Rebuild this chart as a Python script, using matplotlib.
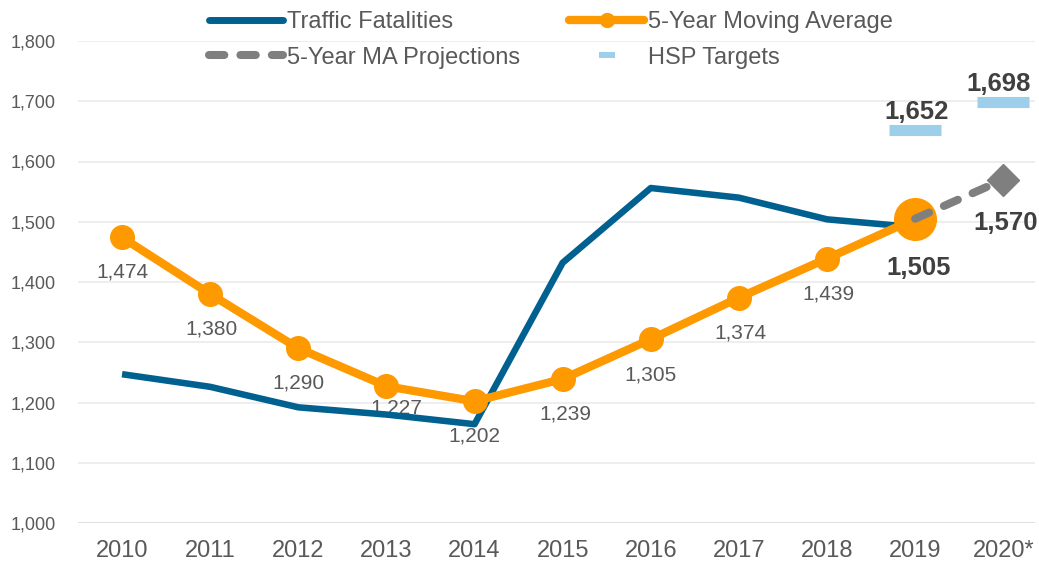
import matplotlib
matplotlib.use("Agg")
import matplotlib.pyplot as plt
from matplotlib.lines import Line2D

plt.rcParams['font.family'] = ['Liberation Sans', 'DejaVu Sans']

years = ["2010", "2011", "2012", "2013", "2014", "2015", "2016", "2017", "2018", "2019", "2020*"]
fatalities = [1247, 1226, 1192, 1180, 1164, 1432, 1556, 1540, 1504, 1491]
moving_avg = [1474, 1380, 1290, 1227, 1202, 1239, 1305, 1374, 1439, 1505]
projection = [1505, 1570]
hsp_targets = [1652, 1698]
yticks = [1000, 1100, 1200, 1300, 1400, 1500, 1600, 1700, 1800]

BLUE = "#00608F"
ORANGE = "#FF9900"
GRAY = "#7F7F7F"
LBLUE = "#9DCFEB"
TXT = "#595959"
BTXT = "#404040"
PX = 1 / 1.389  # pixels -> points at 100 dpi

fig = plt.figure(figsize=(10.39, 5.63), dpi=100)
ax = fig.add_axes([78/1039, 1-523/563, (1035-78)/1039, (523-41)/563])

x = list(range(len(years)))
for v in yticks:
    ax.axhline(v, color="#EBEBEB" if v != 1000 else "#D9D9D9", lw=1.2, zorder=0)

ax.plot(x[:10], fatalities, color=BLUE, lw=4.7, solid_capstyle='butt', zorder=2)
ax.plot(x[:10], moving_avg, color=ORANGE, lw=6, marker='o', markersize=17, zorder=3)
ax.plot([9], [moving_avg[9]], marker='o', color=ORANGE, markersize=30, zorder=4)
ax.plot(x[9:11], projection, color=GRAY, lw=5.8, dashes=(1.9, 2.0),
        dash_capstyle='round', zorder=5)
ax.plot([10], [projection[1]], marker='D', color=GRAY, markersize=16, zorder=5)
for xi, v in zip(x[9:11], hsp_targets):
    ax.plot([xi - 0.295, xi + 0.295], [v, v], color=LBLUE, lw=8, solid_capstyle='butt', zorder=3)

offs = [(0, 35), (1, 35), (0, 35), (10, 22), (0, 35), (3, 35), (0, 36), (2, 35), (1, 36)]
for xi, v, (dx, dy) in zip(x, moving_avg, offs):
    ax.annotate(f"{v:,}", (xi, v), xytext=(dx*PX, -dy*PX), textcoords='offset points',
                ha='center', va='center', fontsize=15, color=TXT, zorder=1)
ax.annotate("", (4, 1202), xytext=(4.06, 1175), arrowprops=dict(arrowstyle='-', color='#A6A6A6', lw=1), zorder=1)
ax.annotate(f"{moving_avg[9]:,}", (9, moving_avg[9]), xytext=(3*PX, -49*PX), textcoords='offset points',
            ha='center', va='center', fontsize=18.5, fontweight='bold', color=BTXT)
ax.annotate(f"{projection[1]:,}", (10, projection[1]), xytext=(2*PX, -43*PX), textcoords='offset points',
            ha='center', va='center', fontsize=18.5, fontweight='bold', color=BTXT)
for xi, v, dx in zip(x[9:11], hsp_targets, [1, -5]):
    ax.annotate(f"{v:,}", (xi, v), xytext=(dx*PX, 18*PX), textcoords='offset points',
                ha='center', va='center', fontsize=18.5, fontweight='bold', color=BTXT)

ax.set_xlim(-0.5, 10.36)
ax.set_ylim(1000, 1800)
ax.set_xticks(x)
ax.set_xticklabels(years)
ax.set_yticks(yticks)
ax.set_yticklabels([f"{v:,}" for v in yticks])
ax.tick_params(axis='x', length=0, pad=12, labelsize=17, labelcolor=TXT)
ax.tick_params(axis='y', length=0, pad=16, labelsize=13, labelcolor=TXT)
for s in ax.spines.values():
    s.set_visible(False)

handles = [
    Line2D([], [], color=BLUE, lw=5, solid_capstyle='round'),
    Line2D([], [], color=GRAY, lw=5.8, dashes=(1.9, 2.0), dash_capstyle='round'),
    Line2D([], [], color=ORANGE, lw=6, marker='o', markersize=10, solid_capstyle='round'),
    Line2D([], [], color=LBLUE, lw=0, marker='_', markersize=11.5, markeredgewidth=4.3),
]
labels = ["Traffic Fatalities", "5-Year MA Projections", "5-Year Moving Average", "HSP Targets"]
fig.legend(handles, labels, ncol=2, loc='upper left', bbox_to_anchor=(209/1039, 1 - 11/563),
           frameon=False, fontsize=17, handlelength=3.15, handletextpad=0.17,
           columnspacing=2.07, labelspacing=0.58, borderpad=0, borderaxespad=0,
           labelcolor=TXT)

fig.savefig("out.png", dpi=100)
